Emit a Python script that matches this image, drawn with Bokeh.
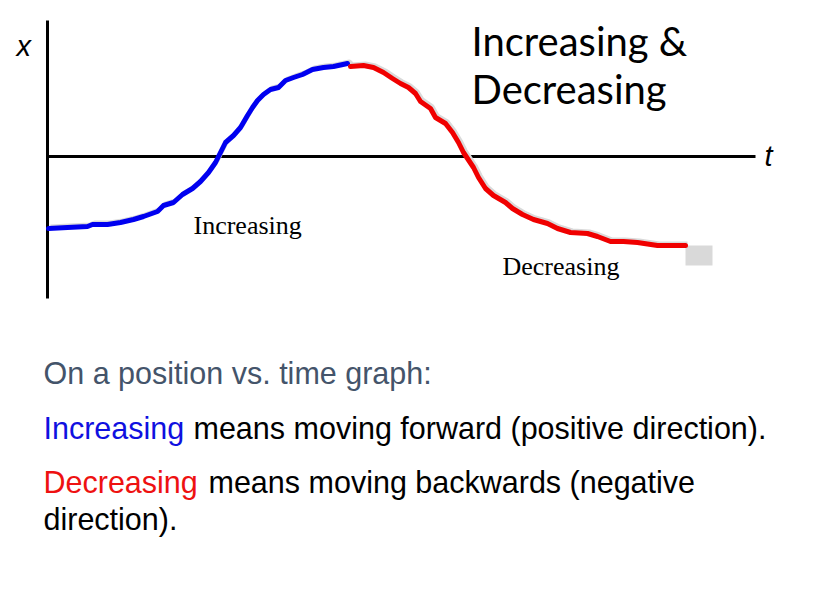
from bokeh.plotting import figure
from bokeh.models import Range1d
from bokeh.core.properties import value
from bokeh.embed import file_html
from bokeh.resources import INLINE

# ---- data (t, x in drawing units; origin at the axes crossing) ----
t_inc = [1, 20, 40, 45, 60, 73, 86, 96, 110, 116, 126, 135, 145, 153, 161, 168, 175, 178,
         186, 193, 200, 205, 210, 216, 223, 231, 238, 246, 255, 265, 276, 286, 300]
x_inc = [-72, -71, -70, -68, -68, -66, -63, -60, -55, -49, -46, -38, -32, -25, -16, -6, 8, 14,
         21, 29, 41, 49, 56, 62, 67, 69, 76, 79, 82, 87, 89, 90, 93]
t_dec = [303, 316, 326, 336, 345, 353, 361, 368, 373, 383, 388, 398, 405, 411, 416, 420, 426,
         431, 438, 446, 458, 465, 475, 486, 500, 510, 523, 540, 550, 563, 576, 590, 610, 638]
x_dec = [90, 91, 89, 84, 78, 73, 69, 63, 55, 48, 39, 33, 24, 14, 4, -2, -11, -21, -32, -39,
         -46, -52, -58, -63, -67, -72, -76, -77, -80, -85, -85, -86, -89, -89]
marker_box = dict(left=[638], right=[665], top=[-89], bottom=[-109])

title_lines = ["Increasing &", "Decreasing"]
curve_labels = ["Increasing", "Decreasing"]
axis_labels = ["x", "t"]
line1 = "On a position vs. time graph:"
line2 = ["Increasing", "means moving forward (positive direction)."]
line3 = ["Decreasing", "means moving backwards (negative"]
line4 = "direction)."

# screen-pixel helpers (origin of the drawn axes at picture pixel 47,156)
OX, OY = 47, 156
def T(sx):
    return sx - OX
def X(sy):
    return OY - sy

p = figure(width=800, height=597, output_backend="svg", toolbar_location=None,
           x_range=Range1d(T(0), T(800)), y_range=Range1d(X(597), X(0)),
           x_axis_type=None, y_axis_type=None, min_border=0)
p.grid.visible = False
p.outline_line_color = None
p.background_fill_color = "white"
p.border_fill_color = "white"

# axes of the sketch
p.line([0, 0], [X(20), X(298)], line_color="black", line_width=3)
p.line([0, T(755)], [0, 0], line_color="black", line_width=3)

# faint gray shadow under curve
p.line([t + 2 for t in t_inc + t_dec], [x + 2 for x in x_inc + x_dec],
       line_color="#DADADA", line_width=4)
p.quad(**marker_box, fill_color="#D9D9D9", line_color=None)

p.line(t_inc, x_inc, line_color="#0000F0", line_width=5, line_join="round", line_cap="round")
p.line(t_dec, x_dec, line_color="#F00000", line_width=5, line_join="round", line_cap="round")

DY = -10  # text baseline correction
def txt(sx, sy, s, font, size, color="black", style="normal"):
    p.text(x=[T(sx)], y=[X(sy + DY)], text=[s], text_font=value(font), text_font_size=size,
           text_color=color, text_font_style=style, text_baseline="alphabetic", text_align="left")

# axis letters
txt(16, 55, axis_labels[0], "Liberation Sans", "29px", style="italic")
txt(764, 165, axis_labels[1], "Liberation Sans", "29px", style="italic")

# title
txt(471, 50, title_lines[0], "Lato", "40px")
txt(471, 98, title_lines[1], "Lato", "40px")

# curve labels
txt(193, 235, curve_labels[0], "Liberation Serif", "26px")
txt(502, 276, curve_labels[1], "Liberation Serif", "26px")

# explanatory text
F = "Liberation Sans"
FS = "30.5px"
txt(43, 382, line1, F, FS, color="#44546A")
txt(43, 437, line2[0], F, FS, color="#1010E0")
txt(193, 437, line2[1], F, FS)
txt(43, 491, line3[0], F, FS, color="#EE1111")
txt(208, 491, line3[1], F, FS)
txt(43, 528, line4, F, FS)

open("out.html", "w").write(file_html(p, INLINE))
